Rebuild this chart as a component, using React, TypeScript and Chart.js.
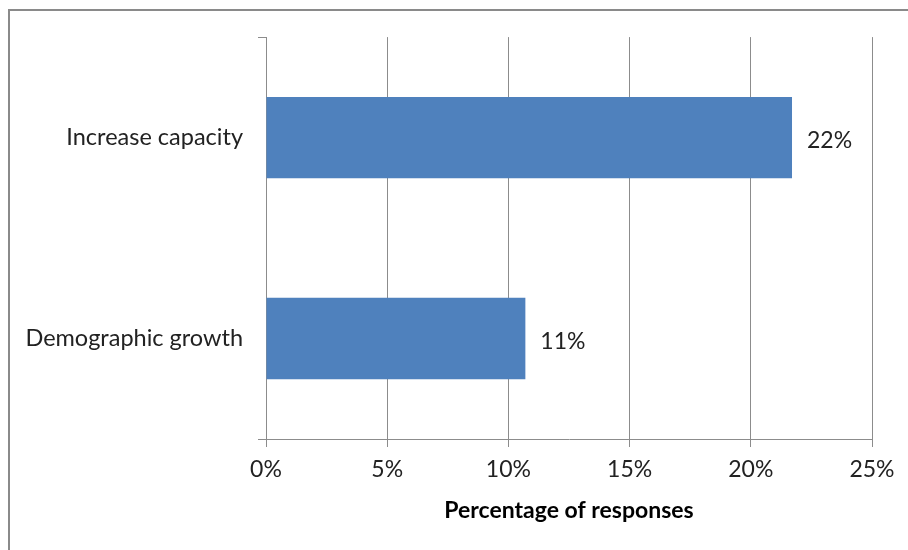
import React, { useEffect, useRef } from "react";
import { Chart, registerables } from "chart.js";

Chart.register(...registerables);

const categories = ["Increase capacity", "Demographic growth"];
const shares = [21.7, 10.7];
const xTicks = [0, 5, 10, 15, 20, 25];
const axisTitle = "Percentage of responses";

const FONT = "Lato, 'Open Sans', sans-serif";
const GRID = "#8c8c8c";
const TEXT = "#222222";

// Writes the rounded percentage just past the end of each bar.
const valueLabels = {
  id: "valueLabels",
  afterDatasetsDraw(chart: any) {
    const ctx = chart.ctx;
    const meta = chart.getDatasetMeta(0);
    ctx.save();
    ctx.font = `23px ${FONT}`;
    ctx.fillStyle = TEXT;
    ctx.textAlign = "left";
    ctx.textBaseline = "middle";
    meta.data.forEach((bar: any, i: number) => {
      ctx.fillText(`${Math.round(shares[i])}%`, bar.x + 15, bar.y + 3);
    });
    ctx.restore();
  },
};

// Short tick marks at the top and bottom of the category axis.
const categoryEndTicks = {
  id: "categoryEndTicks",
  afterDraw(chart: any) {
    const { ctx, chartArea } = chart;
    ctx.save();
    ctx.strokeStyle = GRID;
    ctx.lineWidth = 1;
    ctx.beginPath();
    [chartArea.top, chartArea.bottom].forEach((y: number) => {
      const yy = Math.round(y) + 0.5;
      ctx.moveTo(chartArea.left - 8, yy);
      ctx.lineTo(chartArea.left, yy);
    });
    ctx.stroke();
    ctx.restore();
  },
};

export default function App() {
  const canvasRef = useRef<HTMLCanvasElement | null>(null);

  useEffect(() => {
    if (!canvasRef.current) return;
    const chart = new Chart(canvasRef.current, {
      type: "bar",
      data: {
        labels: categories,
        datasets: [
          {
            data: shares,
            backgroundColor: "#4f81bd",
            borderWidth: 0,
            categoryPercentage: 1,
            barPercentage: 0.405,
          },
        ],
      },
      options: {
        indexAxis: "y",
        animation: false,
        responsive: false,
        maintainAspectRatio: false,
        layout: { padding: { left: 0, right: 36, top: 37, bottom: 0 } },
        plugins: {
          legend: { display: false },
          tooltip: { enabled: false },
        },
        scales: {
          x: {
            min: 0,
            max: 25,
            afterBuildTicks(scale: any) {
              scale.ticks = xTicks.map((v) => ({ value: v }));
            },
            afterFit(scale: any) {
              scale.height = 111;
            },
            grid: {
              color: GRID,
              lineWidth: 1,
              tickLength: 8,
              drawTicks: true,
            },
            border: { display: true, color: GRID, width: 1 },
            ticks: {
              color: TEXT,
              font: { family: FONT, size: 23 },
              padding: 9,
              callback: (v: any) => `${v}%`,
              maxRotation: 0,
            },
            title: {
              display: true,
              text: axisTitle,
              color: "#000",
              font: { family: FONT, size: 23, weight: "bold" },
              padding: { top: 0, bottom: 26 },
            },
          },
          y: {
            afterFit(scale: any) {
              scale.width = 266;
            },
            grid: { display: false, drawTicks: false },
            border: { display: true, color: GRID, width: 1 },
            ticks: {
              color: TEXT,
              font: { family: FONT, size: 23.5 },
              padding: 23,
            },
          },
        },
      },
      plugins: [valueLabels, categoryEndTicks],
    });
    return () => chart.destroy();
  }, []);

  return (
    <div
      style={{
        position: "absolute",
        left: 0,
        top: 0,
        width: 908,
        height: 550,
        background: "#fff",
      }}
    >
      <div
        style={{
          position: "absolute",
          left: 8,
          top: 9,
          right: 0,
          bottom: 0,
          borderLeft: "2px solid #8a8a8a",
          borderTop: "2px solid #8a8a8a",
        }}
      />
      <canvas
        ref={canvasRef}
        width={908}
        height={550}
        style={{ position: "absolute", left: 0, top: 0 }}
      />
    </div>
  );
}
